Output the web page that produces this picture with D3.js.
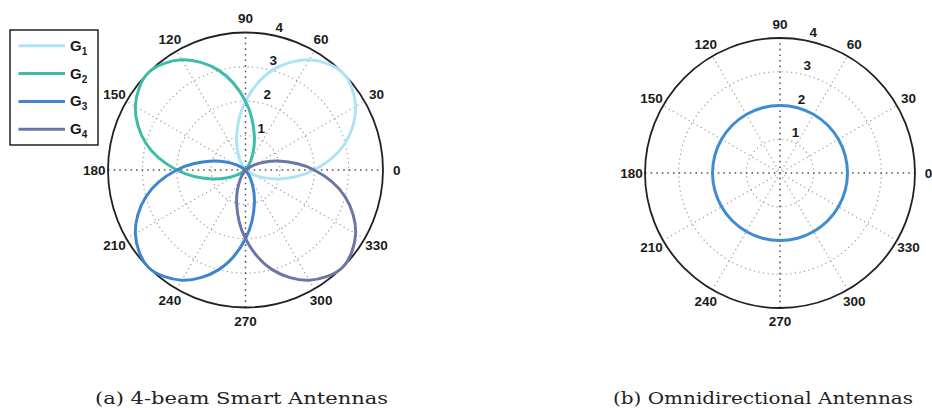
<!DOCTYPE html>
<html>
<head>
<meta charset="utf-8">
<script src="https://cdn.jsdelivr.net/npm/d3@7"></script>
<style>
html,body{margin:0;padding:0;background:#fff;}
svg{display:block;}
</style>
</head>
<body>
<svg id="chart" width="932" height="410"></svg>
<script>
// ---- data ----
const angles = [0,15,30,45,60,75,90,105,120,135,150,165,180,195,210,225,240,255,270,285,300,315,330,345]; // degrees
const seriesNames = ["G1","G2","G3","G4"];
const G1 = [2.0,3.0,3.7,4.0,3.7,3.0,2.0,1.0,0.3,0,0,0,0,0,0,0,0,0,0,0,0,0,0.3,1.0];
const G2 = [0,0,0,0,0.3,1.0,2.0,3.0,3.7,4.0,3.7,3.0,2.0,1.0,0.3,0,0,0,0,0,0,0,0,0];
const G3 = [0,0,0,0,0,0,0,0,0,0,0.3,1.0,2.0,3.0,3.7,4.0,3.7,3.0,2.0,1.0,0.3,0,0,0];
const G4 = [2.0,1.0,0.3,0,0,0,0,0,0,0,0,0,0,0,0,0,0.3,1.0,2.0,3.0,3.7,4.0,3.7,3.0];
const omni = [2,2,2,2,2,2,2,2,2,2,2,2,2,2,2,2,2,2,2,2,2,2,2,2];
const angleTicks = [0,30,60,90,120,150,180,210,240,270,300,330];
const radialTicks = [1,2,3,4];
const captions = ["(a) 4-beam Smart Antennas", "(b) Omnidirectional Antennas"];

// ---- styles ----
const colors = {G1:"#aee3f6", G2:"#3dbcaa", G3:"#3f84cf", G4:"#6b76a7", omni:"#3f8bd4"};
const svg = d3.select("#chart");
const rad = a => a*Math.PI/180;

function polarPanel(cx, cy, R, seriesList){
  const g = svg.append("g").attr("transform", `translate(${cx},${cy})`);
  const r = d3.scaleLinear().domain([0, 4]).range([0, R]);
  // dotted rings
  g.selectAll("circle.ring").data(radialTicks.slice(0,-1)).enter().append("circle")
    .attr("r", d=>r(d)).attr("fill","none").attr("stroke","#9a9a9a")
    .attr("stroke-width",1.2).attr("stroke-dasharray","1.2,3.4");
  // spokes
  angleTicks.filter(a=>a<180).forEach(a=>{
    const x = Math.cos(rad(a))*R, y = -Math.sin(rad(a))*R;
    const main = (a===0||a===90);
    g.append("line").attr("x1",-x).attr("y1",-y).attr("x2",x).attr("y2",y)
      .attr("stroke", main? "#555":"#9a9a9a").attr("stroke-width", main?1.5:1.2)
      .attr("stroke-dasharray", main? "1.6,4":"1.2,3.4");
  });
  // outer circle
  g.append("circle").attr("r", r(4)).attr("fill","none").attr("stroke","#222").attr("stroke-width",1.8);
  // angle labels
  g.selectAll("text.ang").data(angleTicks).enter().append("text")
    .attr("x", d=>Math.cos(rad(d))*R*1.1).attr("y", d=>-Math.sin(rad(d))*R*1.1)
    .attr("text-anchor","middle").attr("dominant-baseline","central")
    .attr("font-family","Liberation Sans, Arial, sans-serif").attr("font-size",13.5)
    .attr("font-weight","bold").attr("fill","#1a1a1a").text(d=>d);
  // radial labels
  g.selectAll("text.rad").data(radialTicks).enter().append("text")
    .attr("x", d=>Math.cos(rad(80))*r(d)+6).attr("y", d=>-Math.sin(rad(80))*r(d)-3)
    .attr("text-anchor","start")
    .attr("font-family","Liberation Sans, Arial, sans-serif").attr("font-size",13.5)
    .attr("font-weight","bold").attr("fill","#1a1a1a").text(d=>d);
  // series
  const line = d3.lineRadial()
    .angle(d=>rad(90 - d.a)).radius(d=>r(d.v))
    .curve(d3.curveCatmullRomClosed.alpha(0.5));
  seriesList.forEach(s=>{
    const pts = angles.map((a,i)=>({a, v:s.values[i]}));
    g.append("path").attr("d", line(pts)).attr("fill","none")
      .attr("stroke", s.color).attr("stroke-width",3).attr("stroke-linejoin","round");
  });
  return g;
}

polarPanel(245.5, 170, 137.5, [
  {values:G1, color:colors.G1},
  {values:G2, color:colors.G2},
  {values:G3, color:colors.G3},
  {values:G4, color:colors.G4}
]);
polarPanel(780, 173, 135, [{values:omni, color:colors.omni}]);

// legend
const lg = svg.append("g");
lg.append("rect").attr("x",10).attr("y",30).attr("width",88).attr("height",115)
  .attr("fill","#fff").attr("stroke","#111").attr("stroke-width",1.4);
const legY = d3.scalePoint().domain(seriesNames).range([45.7,129.3]);
seriesNames.forEach(n=>{
  const y = legY(n);
  lg.append("line").attr("x1",18.5).attr("x2",65).attr("y1",y).attr("y2",y)
    .attr("stroke",colors[n]).attr("stroke-width",3);
  const t = lg.append("text").attr("x",70).attr("y",y+5)
    .attr("font-family","Liberation Sans, Arial, sans-serif").attr("font-weight","bold")
    .attr("font-size",15).attr("fill","#1a1a1a");
  t.append("tspan").text(n[0]);
  t.append("tspan").attr("font-size",10).attr("dy",4).text(n.slice(1));
});

// captions
const capX = [241.5, 763], capW = [293, 300];
captions.forEach((c,i)=>{
  svg.append("text").attr("x",capX[i]).attr("y",404).attr("text-anchor","middle")
    .attr("font-family","'DejaVu Serif', 'Liberation Serif', serif").attr("font-size",17.5)
    .attr("fill","#222").attr("textLength",capW[i]).attr("lengthAdjust","spacingAndGlyphs").text(c);
});
</script>
</body>
</html>
